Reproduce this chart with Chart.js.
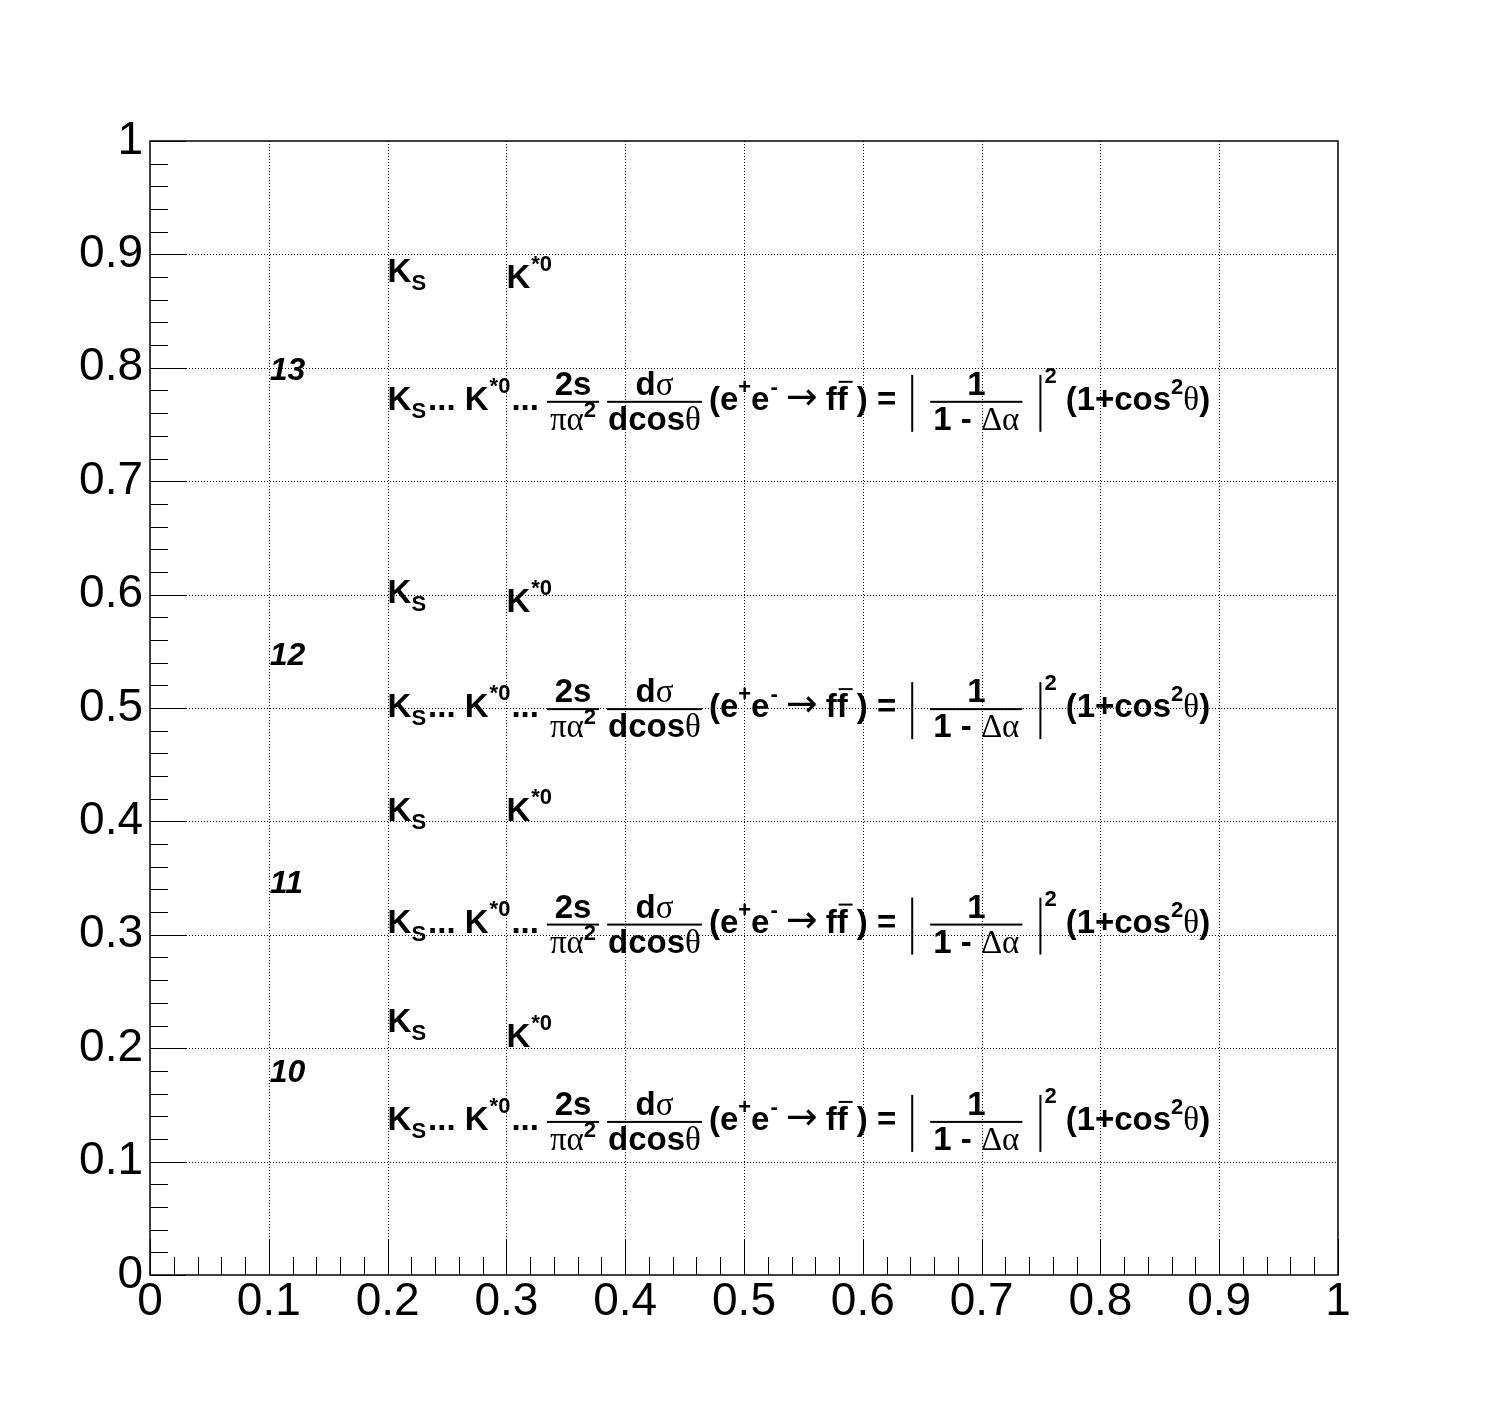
<!DOCTYPE html>
<html>
<head>
<meta charset="utf-8">
<script src="https://cdn.jsdelivr.net/npm/chart.js@4.4.1/dist/chart.umd.min.js"></script>
<style>
    html, body { margin: 0; padding: 0; background: #fff; }
    #wrap { width: 1488px; height: 1416px; }
</style>
</head>
<body>
<div id="wrap"><canvas id="chart"></canvas></div>
<script>
// axis ticks (both axes run 0..1)
const tickValues = [0, 0.1, 0.2, 0.3, 0.4, 0.5, 0.6, 0.7, 0.8, 0.9, 1];
const tickLabels = ['0', '0.1', '0.2', '0.3', '0.4', '0.5', '0.6', '0.7', '0.8', '0.9', '1'];

// text rows (data coordinates)
const rowNumbers = ['13', '12', '11', '10'];
const rowNumberX = 0.1;
const rowNumberY = [0.789, 0.538, 0.337, 0.170];

const ksX = 0.2;
const ksY = [0.876, 0.593, 0.400, 0.214];
const kstarX = 0.3;
const kstarY = [0.870, 0.585, 0.400, 0.201];

const formulaX = 0.2;
const formulaY = [0.770, 0.499, 0.309, 0.135];

const SANS = '"Liberation Sans", Arial, Helvetica, sans-serif';
const SERIF = '"Liberation Serif", "Times New Roman", serif';
const F = {
    b: 'bold 33px ' + SANS,
    s: 'bold 22px ' + SANS,
    g: '33px ' + SERIF,
    a: '38px "DejaVu Sans", ' + SANS,
    n: 'italic bold 32px ' + SANS
};

function runWidth(ctx, runs) {
    let w = 0;
    runs.forEach(r => {
        ctx.font = F[r[1]];
        w += ctx.measureText(r[0]).width + (r[3] || 0);
    });
    return w;
}

function drawRuns(ctx, runs, x, base) {
    runs.forEach(r => {
        ctx.font = F[r[1]];
        ctx.fillText(r[0], x, base + (r[2] || 0));
        x += ctx.measureText(r[0]).width + (r[3] || 0);
    });
    return x;
}

function drawFrac(ctx, num, den, x, barY, pad) {
    const wn = runWidth(ctx, num), wd = runWidth(ctx, den);
    const w = Math.max(wn, wd) + pad;
    ctx.fillRect(x, barY - 1, w, 2);
    drawRuns(ctx, num, x + (w - wn) / 2, barY - 7);
    drawRuns(ctx, den, x + (w - wd) / 2, barY + 28);
    return x + w;
}

function drawAbsBar(ctx, x, barY) {
    ctx.fillRect(x, barY - 27, 2, 57);
    return x + 2;
}

function drawFormula(ctx, x0, barY) {
    const base = barY + 8;
    let x = drawRuns(ctx, [['K', 'b'], ['S', 's', 8, 2], ['... K', 'b', 0, 1], ['*0', 's', -17, 1], ['...', 'b', 0, 8]], x0, base);
    x = drawFrac(ctx, [['2s', 'b']], [['\u03c0\u03b1', 'g'], ['2', 's', -13]], x, barY, 6);
    x += 8;
    x = drawFrac(ctx, [['d', 'b'], ['\u03c3', 'g']], [['dcos', 'b'], ['\u03b8', 'g']], x, barY, 2);
    x += 7;
    x = drawRuns(ctx, [['(e', 'b'], ['+', 's', -16], ['e', 'b', 0, 1], ['-', 's', -16, 8], ['\u2192', 'a', -1, 8], ['f', 'b']], x, base);
    // second f carries a bar
    ctx.font = F.b;
    const fw = ctx.measureText('f').width;
    ctx.fillRect(x + 2, base - 29, fw + 3, 2);
    x = drawRuns(ctx, [['f ) =', 'b', 0, 15]], x, base);
    x = drawAbsBar(ctx, x, barY);
    x += 17;
    x = drawFrac(ctx, [['1', 'b']], [['1 - ', 'b'], ['\u0394\u03b1', 'g']], x, barY, 6);
    x += 17;
    x = drawAbsBar(ctx, x, barY);
    drawRuns(ctx, [['2', 's', -27, 9], ['(1+cos', 'b'], ['2', 's', -16], ['\u03b8', 'g'], [')', 'b']], x + 3, base);
}

const textPlugin = {
    id: 'rootText',
    beforeDatasetsDraw(chart) {
        const ctx = chart.ctx, a = chart.chartArea;
        const xs = chart.scales.x, ys = chart.scales.y;
        ctx.save();
        // dotted grid at the inner major ticks
        ctx.strokeStyle = '#000';
        ctx.lineWidth = 1;
        ctx.setLineDash([1, 2]);
        tickValues.slice(1, -1).forEach(v => {
            const px = Math.round(xs.getPixelForValue(v)) + 0.5;
            const py = Math.round(ys.getPixelForValue(v)) + 0.5;
            ctx.beginPath(); ctx.moveTo(px, a.top); ctx.lineTo(px, a.bottom); ctx.stroke();
            ctx.beginPath(); ctx.moveTo(a.left, py); ctx.lineTo(a.right, py); ctx.stroke();
        });
        ctx.setLineDash([]);
        // frame
        ctx.lineWidth = 1.5;
        ctx.strokeRect(a.left, a.top, a.right - a.left, a.bottom - a.top);
        // inward ticks, 5 divisions per major step
        ctx.lineWidth = 1;
        for (let i = 0; i <= 50; i++) {
            const len = i % 5 === 0 ? 36 : 18;
            const px = Math.round(xs.getPixelForValue(i / 50)) + 0.5;
            const py = Math.round(ys.getPixelForValue(i / 50)) + 0.5;
            ctx.beginPath(); ctx.moveTo(px, a.bottom); ctx.lineTo(px, a.bottom - len); ctx.stroke();
            ctx.beginPath(); ctx.moveTo(a.left, py); ctx.lineTo(a.left + len, py); ctx.stroke();
        }
        ctx.restore();
    },
    afterDatasetsDraw(chart) {
        const ctx = chart.ctx;
        const xs = chart.scales.x, ys = chart.scales.y;
        ctx.save();
        ctx.fillStyle = '#000';
        ctx.textBaseline = 'alphabetic';
        ctx.textAlign = 'left';
        rowNumbers.forEach((t, i) => {
            ctx.font = F.n;
            ctx.fillText(t, xs.getPixelForValue(rowNumberX) + 1, ys.getPixelForValue(rowNumberY[i]));
        });
        ksY.forEach(v => {
            drawRuns(ctx, [['K', 'b'], ['S', 's', 8]], xs.getPixelForValue(ksX), ys.getPixelForValue(v));
        });
        kstarY.forEach(v => {
            drawRuns(ctx, [['K', 'b', 0, 1], ['*0', 's', -17]], xs.getPixelForValue(kstarX), ys.getPixelForValue(v));
        });
        formulaY.forEach(v => {
            drawFormula(ctx, xs.getPixelForValue(formulaX), ys.getPixelForValue(v));
        });
        ctx.restore();
    }
};

const tickFont = { family: SANS, size: 46 };

new Chart(document.getElementById('chart'), {
    type: 'scatter',
    data: { datasets: [] },
    options: {
        responsive: true,
        maintainAspectRatio: false,
        animation: false,
        events: [],
        layout: { padding: { left: 0, top: 141, right: 150, bottom: 0 } },
        plugins: { legend: { display: false }, tooltip: { enabled: false } },
        scales: {
            x: {
                type: 'linear', min: 0, max: 1,
                afterBuildTicks: s => { s.ticks = tickValues.map(v => ({ value: v })); },
                afterFit: s => { s.height = 141; },
                grid: { display: false, drawTicks: false },
                border: { display: false },
                ticks: {
                    color: '#000', font: tickFont, padding: 0, maxRotation: 0, autoSkip: false,
                    callback: (v, i) => tickLabels[i]
                }
            },
            y: {
                type: 'linear', min: 0, max: 1,
                afterBuildTicks: s => { s.ticks = tickValues.map(v => ({ value: v })); },
                afterFit: s => { s.width = 150; },
                grid: { display: false, drawTicks: false },
                border: { display: false },
                ticks: {
                    color: '#000', font: tickFont, padding: 7, autoSkip: false,
                    callback: (v, i) => tickLabels[i]
                }
            }
        }
    },
    plugins: [textPlugin]
});
</script>
</body>
</html>
